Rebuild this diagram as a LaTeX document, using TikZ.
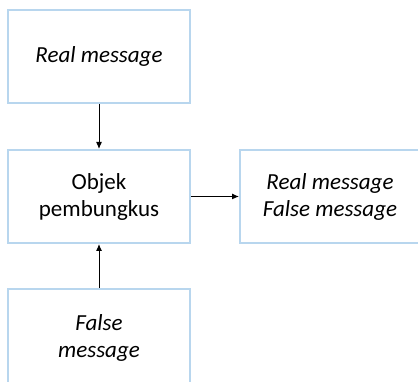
\documentclass[tikz,border=0pt]{standalone}
\usepackage{fontspec}
\setmainfont{Carlito}
\usetikzlibrary{arrows.meta}
\definecolor{boxblue}{RGB}{184,214,238}
\tikzset{
  msgbox/.style={draw=boxblue, line width=2pt, fill=white, minimum width=182pt, align=center, inner sep=0pt, font=\fontsize{23}{27}\selectfont},
  conn/.style={-{Latex[length=7pt,width=6pt]}, line width=1pt, black}
}
\begin{document}
\begin{tikzpicture}[x=1pt,y=1pt]
\useasboundingbox (0,0) rectangle (418,382);
\clip (0,0) rectangle (418,382);
\node[msgbox, minimum height=93pt] (top) at (99,325.5) {\itshape Real message};
\node[msgbox, minimum height=93pt] (mid) at (99,185.5) {Objek\\pembungkus};
\node[msgbox, minimum height=93pt, minimum width=180pt] (right) at (330,185.5) {\itshape Real message\\\itshape False message};
\node[msgbox, minimum height=98pt] (bot) at (99,44) {\itshape False\\\itshape message};
\draw[conn] (top.south) -- (mid.north);
\draw[conn] (mid.east) -- (right.west);
\draw[conn] (bot.north) -- (mid.south);
\end{tikzpicture}
\end{document}
